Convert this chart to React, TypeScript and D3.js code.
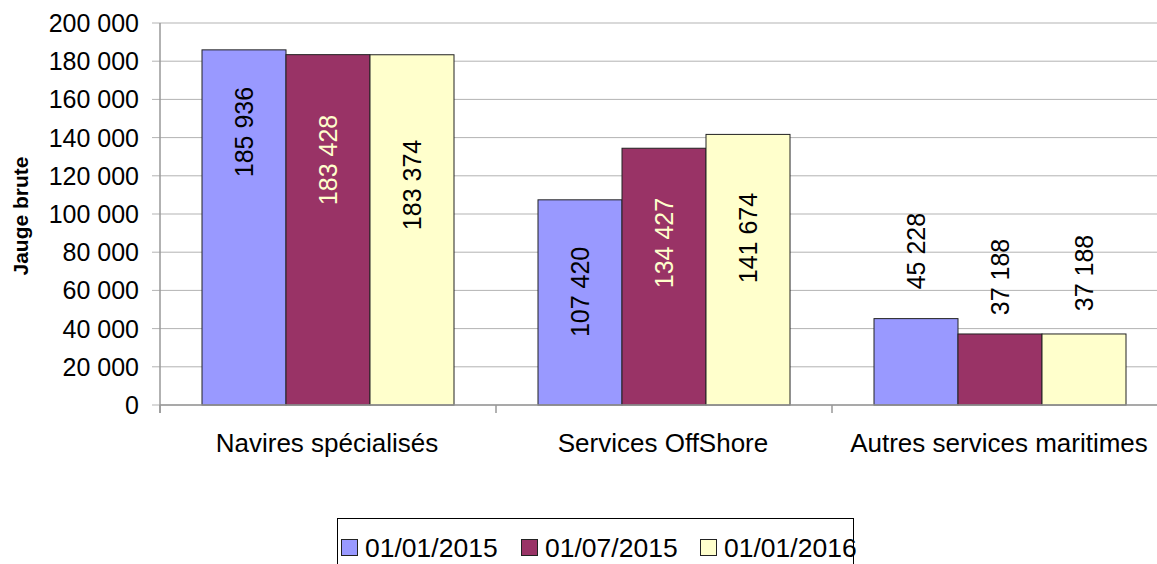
import React from "react";
import * as d3 from "d3";

const categories = ["Navires spécialisés", "Services OffShore", "Autres services maritimes"];
const seriesNames = ["01/01/2015", "01/07/2015", "01/01/2016"];
const s2015a = [185936, 107420, 45228];
const s2015b = [183428, 134427, 37188];
const s2016a = [183374, 141674, 37188];
const yTicks = [0, 20000, 40000, 60000, 80000, 100000, 120000, 140000, 160000, 180000, 200000];
// manual label anchor (centre of rotated label, in value units)
const labelAnchors = [
  [142900, 59200, 80600],
  [128300, 84800, 67000],
  [115200, 87400, 69100],
];

const colors = ["#9999FF", "#993366", "#FFFFCC"];
const insideLabelColors = ["#000000", "#FFFFCC", "#000000"];

const fmt = (v: number) => d3.format(",")(v).replace(/,/g, " ");

export default function App() {
  const W = 1157, H = 564;
  const left = 160, right = 1168, top = 23, bottom = 405;
  const series = [s2015a, s2015b, s2016a];
  const x0 = d3.scaleBand<string>().domain(categories).range([left, right]).paddingInner(0).paddingOuter(0);
  const x1 = d3.scaleBand<string>().domain(seriesNames).range([0, x0.bandwidth()]).paddingInner(0).paddingOuter(0.5);
  const y = d3.scaleLinear().domain([0, 200000]).range([bottom, top]);
  const font = "'Liberation Sans', Arial, sans-serif";

  return (
    <svg width={W} height={H} style={{ position: "absolute", left: 0, top: 0, background: "#fff" }}>
      <rect x={0} y={0} width={W} height={H} fill="#fff" />
      {/* gridlines + y ticks */}
      {yTicks.map((t) => (
        <g key={t}>
          <line x1={152} x2={W} y1={y(t)} y2={y(t)} stroke="#b3b3b3" strokeWidth={1} />
          <text x={139} y={y(t)} dy="0.36em" textAnchor="end" fontFamily={font} fontSize={25} fill="#000">
            {fmt(t)}
          </text>
        </g>
      ))}
      {/* bars */}
      {categories.map((c, ci) => (
        <g key={c}>
          {series.map((s, si) => {
            const bx = (x0(c) as number) + (x1(seriesNames[si]) as number);
            const bw = x1.bandwidth();
            return (
              <rect key={si} x={bx} y={y(s[ci])} width={bw} height={bottom - y(s[ci])}
                fill={colors[si]} stroke="#222" strokeWidth={1} />
            );
          })}
        </g>
      ))}
      {/* axes */}
      <line x1={left} x2={left} y1={top} y2={bottom + 8} stroke="#999" strokeWidth={1.5} />
      <line x1={left} x2={W} y1={bottom} y2={bottom} stroke="#999" strokeWidth={1.5} />
      {categories.map((c) => (
        <line key={c} x1={x0(c) as number} x2={x0(c) as number} y1={bottom} y2={bottom + 8} stroke="#999" strokeWidth={1.5} />
      ))}
      {/* data labels */}
      {categories.map((c, ci) => (
        <g key={c}>
          {series.map((s, si) => {
            const cx = (x0(c) as number) + (x1(seriesNames[si]) as number) + x1.bandwidth() / 2;
            const cy = y(labelAnchors[si][ci]);
            const inside = labelAnchors[si][ci] < s[ci];
            return (
              <text key={si} transform={`translate(${cx},${cy}) rotate(-90)`} textAnchor="middle" dy="0.36em"
                fontFamily={font} fontSize={25} fill={inside ? insideLabelColors[si] : "#000"}>
                {fmt(s[ci])}
              </text>
            );
          })}
        </g>
      ))}
      {/* category labels */}
      {categories.map((c) => (
        <text key={c} x={(x0(c) as number) + x0.bandwidth() / 2 - 1} y={452} textAnchor="middle"
          fontFamily={font} fontSize={26} fill="#000">
          {c}
        </text>
      ))}
      {/* y title */}
      <text transform={`translate(28,216) rotate(-90)`} textAnchor="middle" fontFamily={font} fontSize={21} fontWeight="bold">
        Jauge brute
      </text>
      {/* legend */}
      <rect x={337.5} y={518.5} width={516} height={60} fill="#fff" stroke="#000" strokeWidth={1} />
      {seriesNames.map((n, i) => {
        const lx = [341, 521, 700][i];
        return (
          <g key={n}>
            <rect x={lx + 0.5} y={539.5} width={16} height={16} fill={colors[i]} stroke="#222" />
            <text x={lx + 24} y={557} fontFamily={font} fontSize={26.5} fill="#000">{n}</text>
          </g>
        );
      })}
    </svg>
  );
}
